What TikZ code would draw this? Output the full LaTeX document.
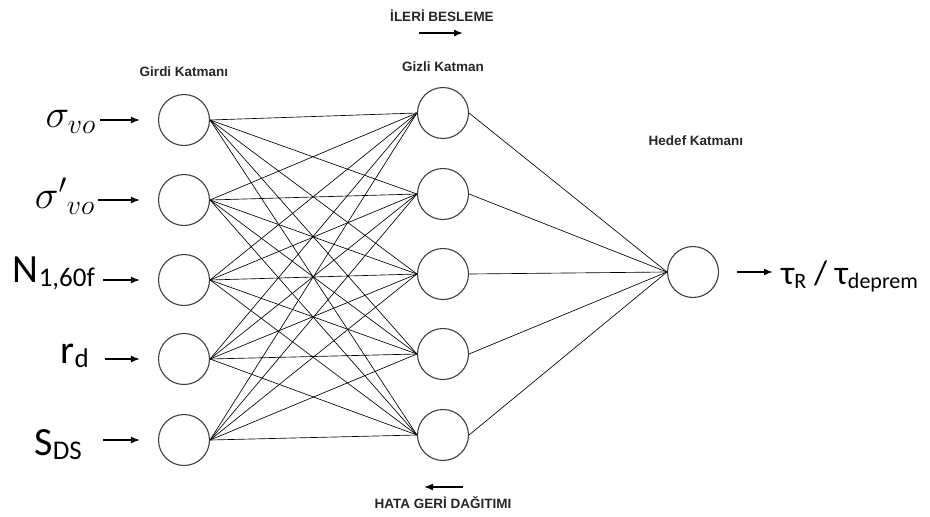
\RequirePackage{fix-cm}
\documentclass[tikz,border=0pt]{standalone}
\usepackage{fontspec}
\setmainfont{Carlito}
\newfontfamily\arialfont{Liberation Sans}
\usetikzlibrary{arrows.meta}
\newcommand\lowsub[2][27]{\raisebox{-4pt}{\fontsize{#1}{#1}\selectfont #2}}

\begin{document}
\begin{tikzpicture}[x=1pt, y=-1pt,
  neuron/.style={draw=black!75, line width=1.1pt, circle, minimum size=51pt, inner sep=0pt},
  link/.style={line width=0.65pt},
  feed/.style={line width=1.6pt, -{Latex[length=9pt,width=7pt]}},
  layer/.style={font=\arialfont\bfseries\fontsize{13.5}{15}\selectfont, text=black!85},
  big/.style={font=\fontsize{40}{48}\selectfont, anchor=base east, inner sep=0pt}]
	\useasboundingbox (0,0) rectangle (930,517);
	% neurons
	\foreach \n/\y in {1/120,2/200,3/280,4/359,5/440} \node[neuron] (i\n) at (184,\y) {};
	\foreach \n/\y in {1/113,2/194,3/274,4/354,5/435} \node[neuron] (h\n) at (443,\y) {};
	\node[neuron] (out) at (693,272) {};
	\foreach \a in {1,...,5} {
		\foreach \b in {1,...,5} \draw[link] (i\a.east) -- (h\b.west);
		\draw[link] (h\a.east) -- (out.west);
	}
	% layer titles
	\node[layer] (girdi) at (184,72) {Girdi Katmanı};
	\node[layer] (gizli) at (443,67) {Gizli Katman};
	\node[layer] (hedef) at (696,141) {Hedef Katmanı};
	\node[layer] (ileri) at (442,16) {İLERİ BESLEME};
	\node[layer] (hata) at (443,503) {HATA GERİ DAĞITIMI};
	\coordinate (ileriA) at (419,33);
	\coordinate (ileriB) at (463,33);
	\coordinate (hataA) at (463,487);
	\coordinate (hataB) at (424,487);
	\draw[feed] (ileriA) -- (ileriB);
	\draw[feed] (hataA) -- (hataB);
	% inputs
	\node[big] (x1) at (96,127) {$\sigma_{vo}$};
	\node[big] (x2) at (95,208) {$\sigma'{}_{vo}$};
	\node[big] (x3) at (95,282) {N\lowsub{1,60f}};
	\node[big] (x4) at (89,363) {r\lowsub{d}};
	\node[big] (x5) at (82,455) {S\lowsub{DS}};
	\foreach \n/\s in {1/4,2/3,3/8,4/16,5/21}
		\draw[feed, shorten <=\s pt, shorten >=18pt] (x\n.east |- i\n) -- (i\n.west);
	% output
	\node[font=\fontsize{34}{40}\selectfont, anchor=west, inner sep=0pt] (y) at (781,276) {τ\lowsub[22]{R} / τ\lowsub[22]{deprem}};
	\draw[feed, shorten <=18pt, shorten >=8pt] (out.east) -- (y.west |- out);
\end{tikzpicture}
\end{document}
